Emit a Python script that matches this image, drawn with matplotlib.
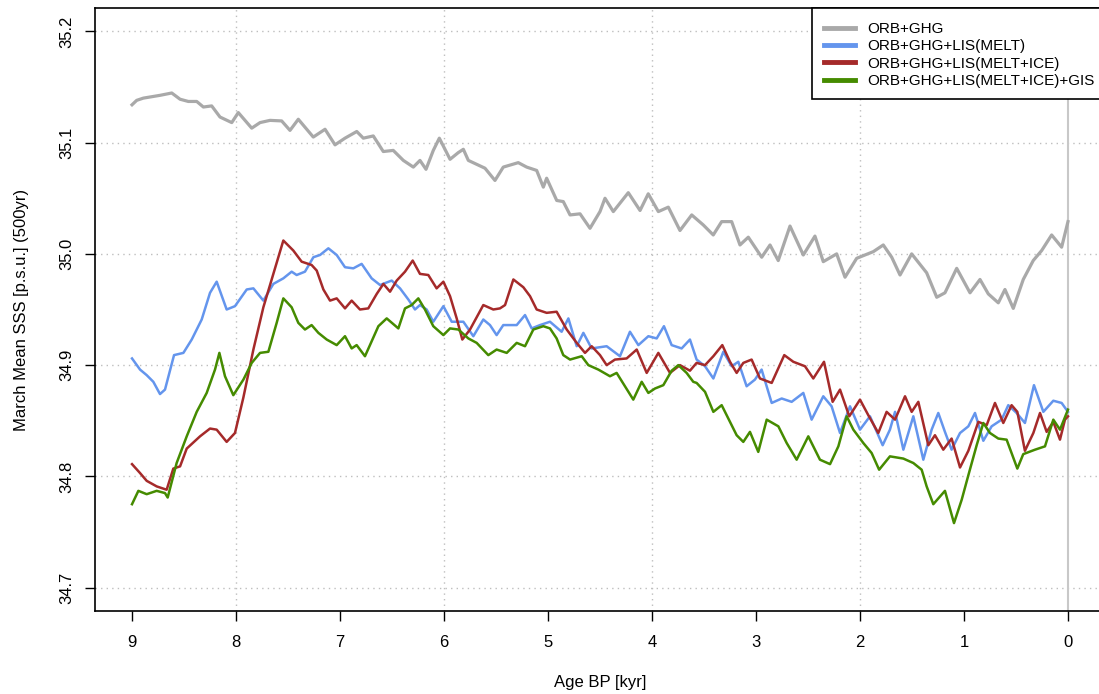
import matplotlib
matplotlib.use("Agg")
import matplotlib.pyplot as plt
from matplotlib.lines import Line2D
from matplotlib.patches import Rectangle

plt.rcParams['font.family'] = ['Liberation Sans', 'DejaVu Sans']

# ---------------- data ----------------
labels = ["ORB+GHG", "ORB+GHG+LIS(MELT)", "ORB+GHG+LIS(MELT+ICE)",
          "ORB+GHG+LIS(MELT+ICE)+GIS"]
colors = ["#A9A9A9", "#6495ED", "#A52A2A", "#458B00"]

grey_x = [9.00, 8.955, 8.891, 8.731, 8.618, 8.538, 8.459, 8.378, 8.314, 8.234,
          8.154, 8.041, 7.978, 7.849, 7.769, 7.673, 7.561, 7.481, 7.401, 7.257,
          7.144, 7.048, 6.952, 6.839, 6.776, 6.680, 6.584, 6.488, 6.391, 6.295,
          6.231, 6.173, 6.103, 6.045, 5.942, 5.863, 5.814, 5.766, 5.606, 5.510,
          5.430, 5.286, 5.205, 5.109, 5.045, 5.013, 4.916, 4.853, 4.788, 4.692,
          4.596, 4.500, 4.452, 4.372, 4.228, 4.115, 4.036, 3.939, 3.843, 3.731,
          3.618, 3.507, 3.411, 3.330, 3.234, 3.154, 3.074, 2.945, 2.865, 2.786,
          2.673, 2.545, 2.433, 2.353, 2.224, 2.144, 2.032, 1.872, 1.776, 1.695,
          1.615, 1.503, 1.359, 1.262, 1.183, 1.070, 0.942, 0.846, 0.766, 0.670,
          0.606, 0.526, 0.430, 0.334, 0.253, 0.157, 0.061, 0.000]
grey_y = [35.134, 35.138, 35.140, 35.1425, 35.1446, 35.139, 35.137, 35.137, 35.132, 35.133,
          35.123, 35.118, 35.127, 35.113, 35.118, 35.120, 35.1195, 35.111, 35.121, 35.105,
          35.112, 35.098, 35.104, 35.110, 35.104, 35.106, 35.092, 35.093, 35.084, 35.078,
          35.084, 35.076, 35.093, 35.104, 35.085, 35.091, 35.094, 35.084, 35.077, 35.066,
          35.078, 35.082, 35.078, 35.075, 35.060, 35.068, 35.048, 35.047, 35.035, 35.036,
          35.023, 35.038, 35.050, 35.038, 35.055, 35.039, 35.054, 35.038, 35.042, 35.021,
          35.035, 35.026, 35.017, 35.029, 35.029, 35.008, 35.015, 34.997, 35.008, 34.994,
          35.025, 34.999, 35.016, 34.993, 35.000, 34.979, 34.996, 35.002, 35.008, 34.997,
          34.981, 35.000, 34.983, 34.961, 34.965, 34.987, 34.965, 34.977, 34.964, 34.956,
          34.968, 34.951, 34.977, 34.994, 35.003, 35.017, 35.006, 35.029]

blue_x = [9.000, 8.923, 8.859, 8.795, 8.731, 8.683, 8.596, 8.506, 8.426, 8.330,
          8.250, 8.186, 8.090, 8.010, 7.897, 7.833, 7.737, 7.641, 7.545, 7.465,
          7.417, 7.337, 7.256, 7.192, 7.112, 7.032, 6.952, 6.872, 6.792, 6.696,
          6.615, 6.503, 6.423, 6.343, 6.279, 6.231, 6.167, 6.103, 6.006, 5.926,
          5.814, 5.718, 5.622, 5.558, 5.494, 5.430, 5.365, 5.301, 5.221, 5.157,
          5.077, 4.981, 4.869, 4.804, 4.724, 4.660, 4.580, 4.436, 4.308, 4.212,
          4.131, 4.035, 3.955, 3.885, 3.811, 3.715, 3.635, 3.571, 3.490, 3.410,
          3.314, 3.234, 3.170, 3.090, 3.010, 2.946, 2.849, 2.753, 2.657, 2.545,
          2.465, 2.353, 2.273, 2.192, 2.096, 2.000, 1.904, 1.782, 1.712, 1.663,
          1.583, 1.487, 1.391, 1.311, 1.247, 1.183, 1.119, 1.038, 0.958, 0.894,
          0.814, 0.734, 0.638, 0.574, 0.494, 0.414, 0.327, 0.237, 0.141, 0.061,
          0.000]
blue_y = [34.906, 34.896, 34.891, 34.885, 34.874, 34.878, 34.909, 34.911, 34.923, 34.941,
          34.965, 34.975, 34.950, 34.953, 34.968, 34.969, 34.958, 34.973, 34.978, 34.984,
          34.981, 34.984, 34.997, 34.999, 35.005, 34.999, 34.988, 34.987, 34.991, 34.978,
          34.972, 34.976, 34.969, 34.959, 34.950, 34.954, 34.950, 34.939, 34.953, 34.939,
          34.939, 34.926, 34.941, 34.936, 34.927, 34.936, 34.936, 34.936, 34.945, 34.933,
          34.936, 34.939, 34.930, 34.942, 34.917, 34.929, 34.915, 34.917, 34.908, 34.930,
          34.918, 34.926, 34.924, 34.935, 34.918, 34.915, 34.923, 34.905, 34.899, 34.888,
          34.912, 34.899, 34.903, 34.881, 34.887, 34.896, 34.866, 34.870, 34.867, 34.875,
          34.851, 34.872, 34.863, 34.839, 34.863, 34.842, 34.854, 34.828, 34.842, 34.858,
          34.824, 34.854, 34.815, 34.842, 34.857, 34.840, 34.824, 34.839, 34.845, 34.857,
          34.832, 34.845, 34.851, 34.864, 34.857, 34.848, 34.882, 34.858, 34.868, 34.866,
          34.858]

red_x = [9.000, 8.923, 8.859, 8.763, 8.667, 8.603, 8.538, 8.474, 8.346, 8.250,
         8.186, 8.090, 8.010, 7.929, 7.833, 7.737, 7.641, 7.545, 7.449, 7.369,
         7.273, 7.224, 7.160, 7.096, 7.032, 6.952, 6.888, 6.808, 6.728, 6.647,
         6.583, 6.519, 6.455, 6.375, 6.301, 6.231, 6.151, 6.071, 6.006, 5.942,
         5.878, 5.824, 5.750, 5.622, 5.526, 5.462, 5.413, 5.333, 5.237, 5.173,
         5.109, 5.013, 4.917, 4.820, 4.724, 4.644, 4.580, 4.500, 4.436, 4.356,
         4.244, 4.147, 4.051, 3.939, 3.827, 3.731, 3.635, 3.571, 3.490, 3.410,
         3.324, 3.250, 3.186, 3.122, 3.042, 2.962, 2.849, 2.728, 2.641, 2.529,
         2.449, 2.346, 2.263, 2.192, 2.103, 2.000, 1.920, 1.824, 1.744, 1.663,
         1.567, 1.503, 1.439, 1.343, 1.279, 1.199, 1.119, 1.038, 0.958, 0.862,
         0.782, 0.702, 0.622, 0.542, 0.487, 0.414, 0.333, 0.269, 0.205, 0.141,
         0.077, 0.029, 0.000]
red_y = [34.811, 34.803, 34.796, 34.791, 34.788, 34.807, 34.809, 34.825, 34.836, 34.843,
         34.842, 34.831, 34.839, 34.871, 34.914, 34.952, 34.982, 35.012, 35.003, 34.993,
         34.990, 34.985, 34.968, 34.958, 34.960, 34.951, 34.958, 34.950, 34.951, 34.964,
         34.973, 34.966, 34.976, 34.984, 34.994, 34.982, 34.981, 34.969, 34.975, 34.962,
         34.942, 34.923, 34.932, 34.954, 34.950, 34.951, 34.954, 34.977, 34.970, 34.962,
         34.950, 34.947, 34.948, 34.932, 34.920, 34.911, 34.917, 34.909, 34.900, 34.905,
         34.906, 34.914, 34.893, 34.911, 34.893, 34.900, 34.895, 34.902, 34.900, 34.908,
         34.918, 34.903, 34.893, 34.902, 34.905, 34.888, 34.884, 34.909, 34.903, 34.899,
         34.888, 34.903, 34.867, 34.878, 34.854, 34.869, 34.855, 34.839, 34.858, 34.851,
         34.872, 34.858, 34.867, 34.828, 34.837, 34.824, 34.834, 34.808, 34.823, 34.849,
         34.846, 34.866, 34.848, 34.864, 34.858, 34.823, 34.839, 34.857, 34.840, 34.849,
         34.833, 34.851, 34.854]

green_x = [9.000, 8.939, 8.859, 8.763, 8.683, 8.657, 8.571, 8.474, 8.378, 8.282,
           8.202, 8.160, 8.106, 8.026, 7.929, 7.849, 7.769, 7.689, 7.609, 7.545,
           7.465, 7.401, 7.337, 7.273, 7.208, 7.128, 7.032, 6.952, 6.888, 6.840,
           6.760, 6.712, 6.631, 6.551, 6.439, 6.375, 6.311, 6.247, 6.183, 6.103,
           6.006, 5.942, 5.862, 5.766, 5.686, 5.574, 5.494, 5.397, 5.301, 5.221,
           5.141, 5.045, 4.981, 4.917, 4.853, 4.788, 4.676, 4.612, 4.516, 4.404,
           4.340, 4.260, 4.180, 4.099, 4.035, 3.971, 3.891, 3.811, 3.747, 3.667,
           3.603, 3.571, 3.490, 3.410, 3.330, 3.250, 3.186, 3.122, 3.058, 2.978,
           2.897, 2.785, 2.705, 2.609, 2.497, 2.385, 2.288, 2.208, 2.128, 2.064,
           1.968, 1.888, 1.816, 1.712, 1.583, 1.487, 1.407, 1.359, 1.295, 1.183,
           1.096, 1.022, 0.958, 0.878, 0.814, 0.750, 0.670, 0.590, 0.487, 0.430,
           0.317, 0.221, 0.141, 0.077, 0.000]
green_y = [34.775, 34.787, 34.784, 34.787, 34.785, 34.781, 34.812, 34.836, 34.858, 34.875,
           34.896, 34.911, 34.890, 34.873, 34.887, 34.902, 34.911, 34.912, 34.938, 34.960,
           34.952, 34.938, 34.932, 34.936, 34.929, 34.923, 34.918, 34.926, 34.915, 34.918,
           34.908, 34.918, 34.935, 34.942, 34.933, 34.951, 34.954, 34.960, 34.950, 34.935,
           34.927, 34.933, 34.932, 34.924, 34.920, 34.909, 34.914, 34.911, 34.920, 34.917,
           34.932, 34.935, 34.933, 34.924, 34.909, 34.905, 34.908, 34.900, 34.896, 34.890,
           34.893, 34.881, 34.869, 34.885, 34.875, 34.879, 34.882, 34.895, 34.900, 34.893,
           34.885, 34.884, 34.876, 34.858, 34.864, 34.849, 34.837, 34.831, 34.840, 34.822,
           34.851, 34.845, 34.830, 34.815, 34.836, 34.815, 34.811, 34.827, 34.854, 34.842,
           34.830, 34.821, 34.806, 34.818, 34.816, 34.812, 34.806, 34.791, 34.775, 34.787,
           34.758, 34.779, 34.801, 34.828, 34.848, 34.839, 34.834, 34.833, 34.807, 34.820,
           34.824, 34.827, 34.851, 34.842, 34.860]

x_ticks = [9, 8, 7, 6, 5, 4, 3, 2, 1, 0]
x_grid = [8, 6, 4, 2]
y_ticks = [34.7, 34.8, 34.9, 35.0, 35.1, 35.2]
y_tick_labels = ["34.7", "34.8", "34.9", "35.0", "35.1", "35.2"]

# ---------------- figure ----------------
W, H = 1099, 694
fig = plt.figure(figsize=(W / 100, H / 100), dpi=100)
ax = fig.add_axes([95 / W, 1 - 611 / H, 1010 / W, 603 / H])

ax.set_xlim(9.356, -0.356)
ax.set_ylim(34.679, 35.221)

# grid
for yv in y_ticks:
    ax.axhline(yv, color="#BEBEBE", lw=1.0, ls=(0, (1, 3)), zorder=1)
for xv in x_grid:
    ax.axvline(xv, color="#BEBEBE", lw=1.0, ls=(0, (1, 3)), zorder=1)
ax.axvline(0, color="#C8C8C8", lw=1.5, zorder=1)

series = [(grey_x, grey_y), (blue_x, blue_y), (red_x, red_y), (green_x, green_y)]
lws = [2.3, 1.8, 1.8, 1.8]
for (xs, ys), c, lw in zip(series, colors, lws):
    ax.plot(xs, ys, color=c, lw=lw, solid_joinstyle="round", zorder=3)

ax.set_xticks(x_ticks)
ax.set_xticklabels([str(v) for v in x_ticks])
ax.set_yticks(y_ticks)
ax.set_yticklabels(y_tick_labels, rotation=90, va="center")
ax.tick_params(axis="both", length=7, width=1.0, labelsize=12, colors="black")
ax.tick_params(axis="x", pad=10)
ax.tick_params(axis="y", pad=8)
for sp in ax.spines.values():
    sp.set_linewidth(1.2)
    sp.set_color("black")

fig.text(600 / W, 1 - 683 / H, "Age BP [kyr]", ha="center", va="center", fontsize=12)
fig.text(22 / W, 1 - 310 / H, "March Mean SSS [p.s.u.] (500yr)", ha="center",
         va="center", rotation=90, fontsize=12)

# legend box (drawn separately to match the reference padding)
box = Rectangle((812 / W, 1 - 99 / H), (1112 - 812) / W, 91 / H,
                transform=fig.transFigure, facecolor="white", edgecolor="black",
                lw=1.2, zorder=5)
fig.add_artist(box)
handles = [Line2D([0], [0], color=c, lw=3.5) for c in colors]
leg = fig.legend(handles, labels, loc="upper left",
                 bbox_to_anchor=(824 / W, 1 - 22 / H), borderaxespad=0,
                 fontsize=11, frameon=False,
                 handlelength=2.0, handletextpad=0.85,
                 labelspacing=0.22, borderpad=0)
leg.set_zorder(6)

fig.savefig("out.png", dpi=100)
